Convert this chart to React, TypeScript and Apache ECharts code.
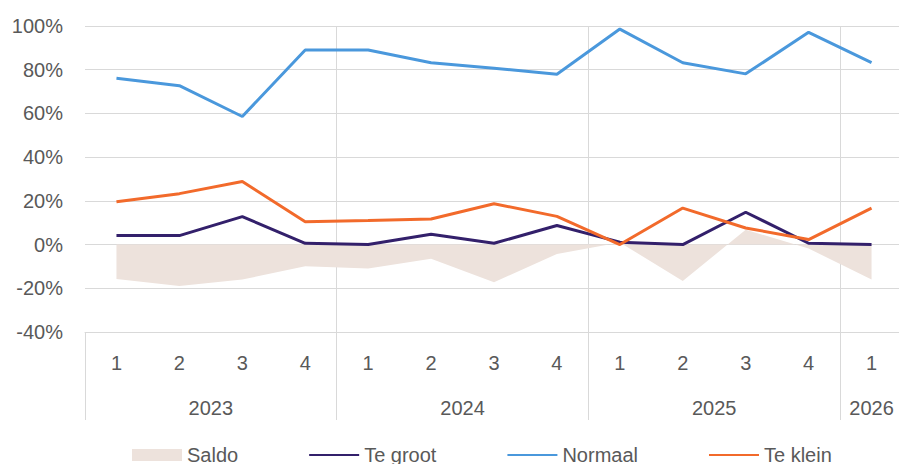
import React, { useEffect, useRef } from "react";
import * as echarts from "echarts";

const quarters = ["1", "2", "3", "4", "1", "2", "3", "4", "1", "2", "3", "4", "1"];
const yearLabels: Record<string, string> = { "2": "2023", "6": "2024", "10": "2025", "12.5": "2026" };
const saldo = [-15.7, -19, -16, -9.9, -11, -6.5, -17.2, -4.3, 1, -16.7, 6.8, -1.8, -16];
const teGroot = [4.1, 4.1, 12.8, 0.6, 0, 4.7, 0.6, 8.7, 1.1, 0, 14.8, 0.6, 0];
const normaal = [76.1, 72.7, 58.6, 89, 89, 83.2, 80.7, 77.9, 98.6, 83.2, 78.1, 97.1, 83.2];
const teKlein = [19.6, 23.3, 28.9, 10.4, 11, 11.7, 18.7, 12.9, 0, 16.7, 7.6, 2.3, 16.7];

const FONT = "'Liberation Sans', Arial, sans-serif";
const TXT = "#595959";
const GRID = "#d9d9d9";

export default function App() {
  const ref = useRef<HTMLDivElement>(null);
  useEffect(() => {
    if (!ref.current) return;
    const chart = echarts.init(ref.current, null, { renderer: "svg" });
    const hideSym = { opacity: 0 };
    chart.setOption({
      animation: false,
      textStyle: { fontFamily: FONT },
      grid: { left: 85, right: -4, top: 26, bottom: 132, containLabel: false, outerBoundsMode: "none" },
      legend: {
        left: 127,
        top: 440,
        itemGap: 70,
        itemWidth: 50,
        itemHeight: 12,
        textStyle: { fontSize: 20, color: TXT, fontFamily: FONT },
        data: [
          { name: "Saldo", icon: "rect" },
          { name: "Te groot", itemStyle: hideSym },
          { name: "Normaal", itemStyle: hideSym },
          { name: "Te klein", itemStyle: hideSym },
        ],
      },
      xAxis: [
        {
          type: "category",
          data: quarters,
          boundaryGap: true,
          axisLine: { show: true, onZero: false, lineStyle: { color: GRID, width: 1 } },
          axisTick: {
            show: true,
            length: 88,
            interval: 3,
            lineStyle: { color: GRID, width: 1 },
          },
          splitLine: {
            show: true,
            interval: (i: number) => i % 4 === 0 && i > 0 && i < 13,
            lineStyle: { color: GRID, width: 1 },
          },
          axisLabel: { interval: 0, margin: 21, fontSize: 20, color: TXT, fontFamily: FONT },
        },
        {
          type: "value",
          min: 0,
          max: 13,
          interval: 0.5,
          position: "bottom",
          axisLine: { show: false, onZero: false },
          axisTick: { show: false },
          splitLine: { show: false },
          axisLabel: {
            margin: 66,
            fontSize: 20,
            color: TXT,
            fontFamily: FONT,
            hideOverlap: false,
            formatter: (v: number) => yearLabels[String(v)] || "",
          },
        },
      ],
      yAxis: {
        type: "value",
        min: -40,
        max: 100,
        interval: 20,
        axisLine: { show: false },
        axisTick: { show: false },
        splitLine: { show: true, lineStyle: { color: GRID, width: 1 } },
        axisLabel: { margin: 22, fontSize: 20, color: TXT, fontFamily: FONT, formatter: "{value}%" },
      },
      series: [
        {
          name: "Saldo",
          type: "line",
          data: saldo,
          symbol: "none",
          color: "#ede2dc",
          itemStyle: { color: "#ede2dc" },
          lineStyle: { width: 0, color: "#ede2dc" },
          areaStyle: { color: "#ede2dc", opacity: 1 },
        },
        {
          name: "Te groot",
          type: "line",
          data: teGroot,
          symbol: "none",
          color: "#33206b",
          lineStyle: { width: 3, color: "#33206b" },
        },
        {
          name: "Normaal",
          type: "line",
          data: normaal,
          symbol: "none",
          color: "#4a98dc",
          lineStyle: { width: 3, color: "#4a98dc" },
        },
        {
          name: "Te klein",
          type: "line",
          data: teKlein,
          symbol: "none",
          color: "#f26a2b",
          lineStyle: { width: 3, color: "#f26a2b" },
        },
      ],
    });
    return () => chart.dispose();
  }, []);
  return <div ref={ref} style={{ width: 899, height: 464, position: "absolute", left: 0, top: 0 }} />;
}
